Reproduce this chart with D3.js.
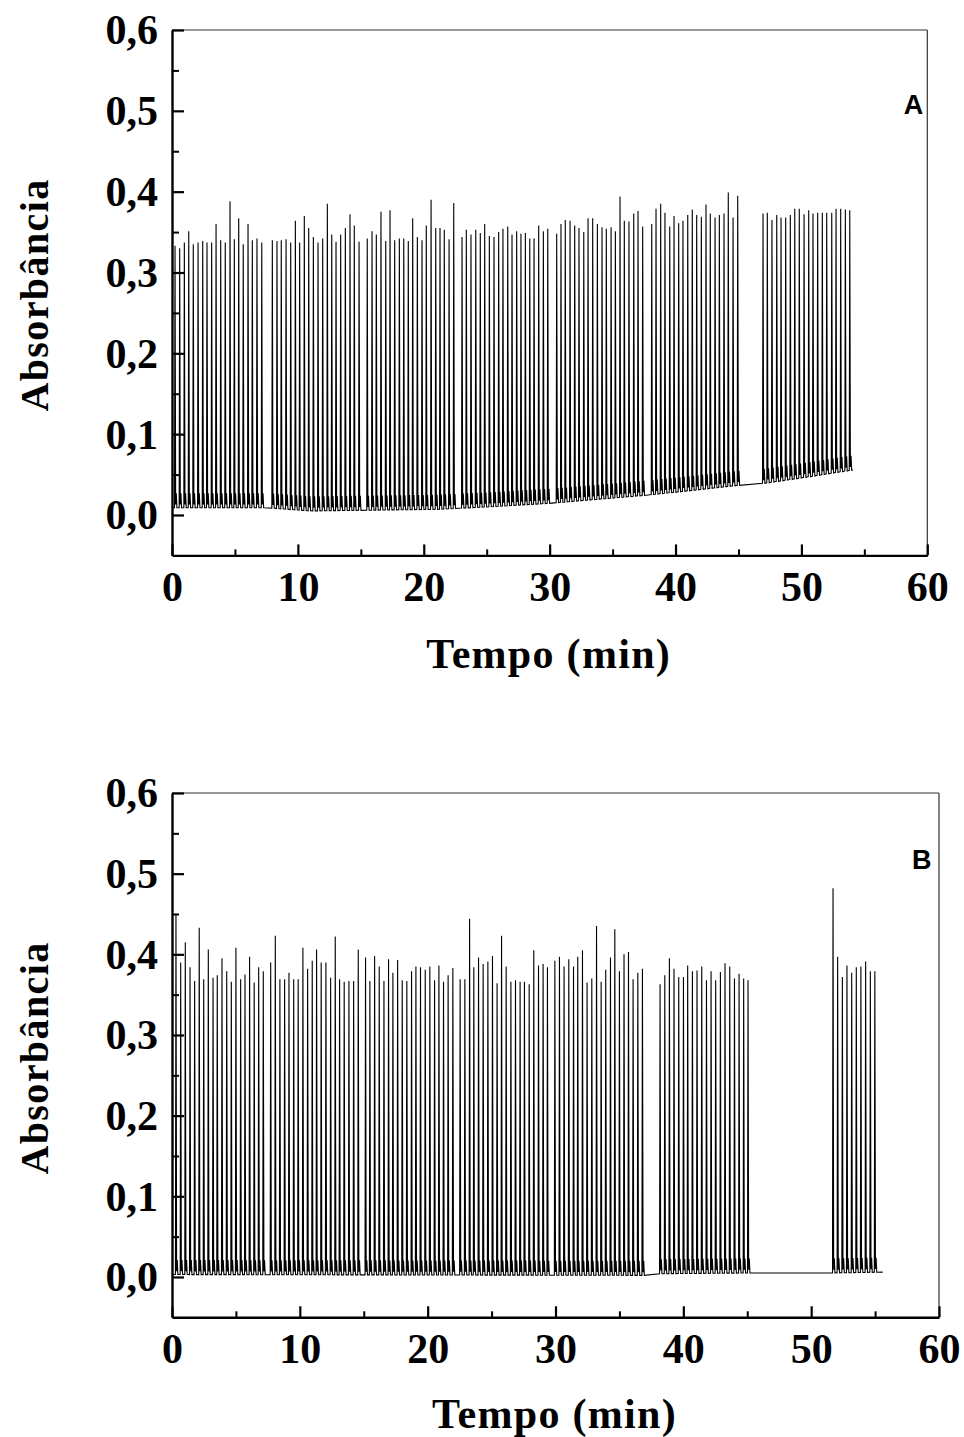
<!DOCTYPE html>
<html>
<head>
<meta charset="utf-8">
<script src="https://cdn.jsdelivr.net/npm/d3@7"></script>
<style>
  html, body { margin: 0; padding: 0; background: #fff; }
  svg { display: block; }
</style>
</head>
<body>
<svg id="chart" width="964" height="1437"></svg>
<script>
// ---------- DATA ----------
const xTickValues = [0, 10, 20, 30, 40, 50, 60];
const xTickLabels = ["0", "10", "20", "30", "40", "50", "60"];
const xMinorValues = [5, 15, 25, 35, 45, 55];
const yTickValues = [0, 0.1, 0.2, 0.3, 0.4, 0.5, 0.6];
const yTickLabels = ["0,0", "0,1", "0,2", "0,3", "0,4", "0,5", "0,6"];
const yMinorValues = [0.05, 0.15, 0.25, 0.35, 0.45, 0.55];
const xTitle = "Tempo (min)";
const yTitle = "Absorbância";

// Panel A: peak times (min) and peak absorbances
const peakTimesA = [
  0.24, 0.61, 0.98, 1.33, 1.69, 2.07, 2.44, 2.78, 3.15, 3.50, 3.87, 4.23, 4.61, 4.95, 5.30, 5.66, 6.04, 6.38, 6.75, 7.13,
  7.97, 8.34, 8.68, 9.06, 9.43, 9.80, 10.14, 10.51, 10.86, 11.23, 11.60, 11.97, 12.34, 12.69, 13.03, 13.40, 13.77, 14.14, 14.48, 14.86,
  15.51, 15.89, 16.23, 16.60, 16.98, 17.32, 17.69, 18.06, 18.41, 18.77, 19.12, 19.49, 19.86, 20.20, 20.58, 20.95, 21.29, 21.63, 22.01, 22.38,
  23.04, 23.38, 23.75, 24.13, 24.49, 24.84, 25.21, 25.58, 25.95, 26.29, 26.67, 27.01, 27.38, 27.72, 28.07, 28.42, 28.76, 29.13, 29.50, 29.85,
  30.56, 30.90, 31.24, 31.62, 31.99, 32.33, 32.71, 33.05, 33.42, 33.79, 34.16, 34.50, 34.88, 35.22, 35.59, 35.93, 36.30, 36.68, 37.02, 37.39,
  38.11, 38.45, 38.82, 39.16, 39.54, 39.88, 40.25, 40.59, 40.97, 41.33, 41.68, 42.05, 42.42, 42.76, 43.14, 43.48, 43.85, 44.19, 44.57, 44.94,
  46.95, 47.29, 47.66, 48.04, 48.38, 48.75, 49.12, 49.47, 49.83, 50.21, 50.58, 50.92, 51.29, 51.66, 52.01, 52.41, 52.75, 53.12, 53.49, 53.84
];
const peakValuesA = [
  0.333, 0.330, 0.337, 0.351, 0.335, 0.337, 0.339, 0.337, 0.337, 0.360, 0.340, 0.337, 0.388, 0.341, 0.367, 0.335, 0.360, 0.340, 0.342, 0.337,
  0.340, 0.339, 0.340, 0.341, 0.337, 0.364, 0.337, 0.370, 0.355, 0.344, 0.337, 0.342, 0.385, 0.347, 0.338, 0.347, 0.355, 0.372, 0.358, 0.338,
  0.342, 0.351, 0.347, 0.375, 0.339, 0.377, 0.340, 0.342, 0.342, 0.339, 0.367, 0.344, 0.340, 0.358, 0.390, 0.355, 0.355, 0.353, 0.341, 0.386,
  0.344, 0.353, 0.347, 0.353, 0.349, 0.360, 0.345, 0.344, 0.350, 0.354, 0.357, 0.347, 0.351, 0.348, 0.349, 0.342, 0.342, 0.358, 0.351, 0.354,
  0.348, 0.360, 0.365, 0.364, 0.358, 0.355, 0.350, 0.367, 0.367, 0.360, 0.356, 0.354, 0.356, 0.351, 0.394, 0.364, 0.363, 0.373, 0.376, 0.357,
  0.360, 0.379, 0.385, 0.374, 0.357, 0.370, 0.361, 0.364, 0.371, 0.378, 0.371, 0.369, 0.384, 0.373, 0.368, 0.371, 0.373, 0.399, 0.368, 0.395,
  0.373, 0.374, 0.365, 0.371, 0.368, 0.368, 0.371, 0.379, 0.379, 0.372, 0.377, 0.373, 0.374, 0.374, 0.374, 0.374, 0.379, 0.379, 0.378, 0.377
];
const baseTimesA  = [0, 7.5, 11, 16, 21, 25, 30, 38, 45.1, 46.9, 50, 54.1];
const baseValuesA = [0.009, 0.009, 0.005, 0.006, 0.007, 0.010, 0.0145, 0.025, 0.037, 0.039, 0.046, 0.056];

// Panel B
const peakTimesB = [
  0.31, 0.68, 1.04, 1.41, 1.77, 2.13, 2.48, 2.84, 3.21, 3.54, 3.91, 4.28, 4.64, 5.00, 5.37, 5.71, 6.07, 6.43, 6.78, 7.14,
  7.72, 8.08, 8.44, 8.81, 9.15, 9.52, 9.87, 10.24, 10.61, 10.97, 11.31, 11.67, 12.04, 12.41, 12.77, 13.11, 13.47, 13.84, 14.21, 14.57,
  15.14, 15.48, 15.85, 16.21, 16.58, 16.94, 17.28, 17.65, 18.01, 18.37, 18.74, 19.08, 19.44, 19.81, 20.17, 20.54, 20.88, 21.24, 21.60, 21.97,
  22.54, 22.91, 23.28, 23.61, 23.98, 24.34, 24.71, 25.07, 25.43, 25.78, 26.14, 26.51, 26.87, 27.23, 27.57, 27.94, 28.30, 28.67, 29.03, 29.37,
  29.95, 30.31, 30.67, 31.04, 31.41, 31.74, 32.11, 32.47, 32.84, 33.21, 33.57, 33.93, 34.30, 34.64, 35.00, 35.36, 35.71, 36.07, 36.44, 36.80,
  38.18, 38.55, 38.91, 39.27, 39.64, 40.01, 40.34, 40.71, 41.07, 41.44, 41.81, 42.17, 42.53, 42.90, 43.26, 43.63, 44.00, 44.36, 44.72, 45.06,
  51.71, 52.07, 52.44, 52.80, 53.17, 53.53, 53.89, 54.26, 54.63, 54.98
];
const peakValuesB = [
  0.450, 0.390, 0.415, 0.384, 0.367, 0.433, 0.369, 0.406, 0.371, 0.374, 0.395, 0.379, 0.366, 0.408, 0.369, 0.375, 0.397, 0.365, 0.384, 0.379,
  0.390, 0.423, 0.369, 0.369, 0.377, 0.369, 0.369, 0.408, 0.382, 0.392, 0.406, 0.390, 0.390, 0.371, 0.422, 0.369, 0.366, 0.367, 0.367, 0.406,
  0.396, 0.367, 0.398, 0.385, 0.367, 0.394, 0.377, 0.393, 0.368, 0.367, 0.379, 0.385, 0.384, 0.381, 0.385, 0.368, 0.386, 0.366, 0.374, 0.383,
  0.369, 0.369, 0.444, 0.384, 0.396, 0.388, 0.391, 0.398, 0.364, 0.423, 0.385, 0.366, 0.368, 0.366, 0.366, 0.363, 0.405, 0.386, 0.388, 0.384,
  0.392, 0.397, 0.385, 0.394, 0.385, 0.397, 0.405, 0.365, 0.370, 0.435, 0.366, 0.381, 0.396, 0.431, 0.379, 0.400, 0.403, 0.369, 0.377, 0.382,
  0.363, 0.374, 0.395, 0.382, 0.372, 0.372, 0.386, 0.379, 0.380, 0.385, 0.368, 0.379, 0.368, 0.378, 0.389, 0.385, 0.370, 0.376, 0.370, 0.368,
  0.482, 0.397, 0.372, 0.386, 0.377, 0.384, 0.385, 0.391, 0.379, 0.379
];
const baseTimesB  = [0, 36.9, 38.0, 45.4, 51.6, 55.6];
const baseValuesB = [0.003, 0.002, 0.004, 0.005, 0.005, 0.006];

// ---------- DRAWING ----------
const svg = d3.select("#chart");
const serif = "'Liberation Serif', 'Times New Roman', serif";
const sans = "'Liberation Sans', Arial, sans-serif";

function buildTrace(times, values, bT, bV) {
  const base = d3.scaleLinear().domain(bT).range(bV).clamp(true);
  const pts = [[bT[0], base(bT[0])]];
  times.forEach((t, i) => {
    const b = base(t);
    pts.push([t - 0.04, b]);
    pts.push([t, values[i]]);
    pts.push([t + 0.05, b + 0.004]);
    pts.push([t + 0.10, b + 0.018]);
    pts.push([t + 0.15, b]);
  });
  pts.push([bT[bT.length - 1], base(bT[bT.length - 1])]);
  return pts;
}

function panel(cfg) {
  const x = d3.scaleLinear().domain([0, 60]).range([cfg.left, cfg.right]);
  const y = d3.scaleLinear().domain([-0.05, 0.6]).range([cfg.bottom, cfg.top]);
  const g = svg.append("g");

  // trace
  const pts = buildTrace(cfg.times, cfg.values, cfg.bT, cfg.bV);
  g.append("path")
    .datum(pts)
    .attr("fill", "none")
    .attr("stroke", "#000")
    .attr("stroke-width", 1.1)
    .attr("d", d3.line().x(d => x(d[0])).y(d => y(d[1])));

  // top & right frame
  g.append("line").attr("x1", cfg.left).attr("x2", cfg.right).attr("y1", cfg.top).attr("y2", cfg.top)
    .attr("stroke", "#333").attr("stroke-width", 1.2);
  g.append("line").attr("x1", cfg.right).attr("x2", cfg.right).attr("y1", cfg.top).attr("y2", cfg.bottom)
    .attr("stroke", "#333").attr("stroke-width", 1.2);

  // minor ticks
  const xMinor = g.append("g").attr("transform", `translate(0,${cfg.bottom})`)
    .call(d3.axisBottom(x).tickValues(xMinorValues).tickSize(-6).tickSizeOuter(0).tickFormat(""));
  const yMinor = g.append("g").attr("transform", `translate(${cfg.left},0)`)
    .call(d3.axisLeft(y).tickValues(yMinorValues).tickSize(-7).tickSizeOuter(0).tickFormat(""));
  [xMinor, yMinor].forEach(a => { a.select(".domain").remove(); a.selectAll("line").attr("stroke-width", 2); });

  // major axes
  const xa = g.append("g").attr("transform", `translate(0,${cfg.bottom})`)
    .call(d3.axisBottom(x).tickValues(xTickValues).tickSize(-11).tickSizeOuter(0).tickPadding(15)
      .tickFormat((d, i) => xTickLabels[i]));
  const ya = g.append("g").attr("transform", `translate(${cfg.left},0)`)
    .call(d3.axisLeft(y).tickValues(yTickValues).tickSize(-12).tickSizeOuter(0).tickPadding(14)
      .tickFormat((d, i) => yTickLabels[i]));
  [xa, ya].forEach(a => {
    a.select(".domain").attr("stroke-width", 2.4).attr("stroke", "#000");
    a.selectAll(".tick line").attr("stroke-width", 2.2);
    a.selectAll(".tick text").attr("fill", "#000")
      .style("font-family", serif).style("font-weight", "bold").style("font-size", "42px");
  });
  ya.selectAll(".tick text").attr("dy", "0.33em");
  xa.selectAll(".tick text").attr("dy", "0.72em");

  // axis titles
  g.append("text")
    .attr("x", (cfg.left + cfg.right) / 2 + cfg.xtOff)
    .attr("y", cfg.bottom + cfg.xtY)
    .attr("text-anchor", "middle")
    .style("font-family", serif).style("font-weight", "bold").style("font-size", "42px")
    .style("letter-spacing", "1.3px")
    .text(xTitle);
  g.append("text")
    .attr("transform", `translate(${cfg.ytX},${cfg.ytY}) rotate(-90)`)
    .attr("text-anchor", "middle")
    .style("font-family", serif).style("font-weight", "bold").style("font-size", "40px")
    .style("letter-spacing", "1.4px")
    .text(yTitle);

  // panel letter
  g.append("text")
    .attr("x", cfg.lblX).attr("y", cfg.lblY)
    .attr("text-anchor", "middle")
    .style("font-family", sans).style("font-weight", "bold").style("font-size", cfg.lblSize + "px")
    .text(cfg.label);
}

panel({
  left: 172, right: 927.3, top: 30, bottom: 555.4,
  times: peakTimesA, values: peakValuesA, bT: baseTimesA, bV: baseValuesA,
  xtOff: -1, xtY: 113, ytX: 48, ytY: 295,
  label: "A", lblX: 913.5, lblY: 113.5, lblSize: 27
});
panel({
  left: 172, right: 939, top: 793, bottom: 1317.3,
  times: peakTimesB, values: peakValuesB, bT: baseTimesB, bV: baseValuesB,
  xtOff: -1, xtY: 111, ytX: 48, ytY: 1058,
  label: "B", lblX: 921.7, lblY: 869, lblSize: 27
});
</script>
</body>
</html>
